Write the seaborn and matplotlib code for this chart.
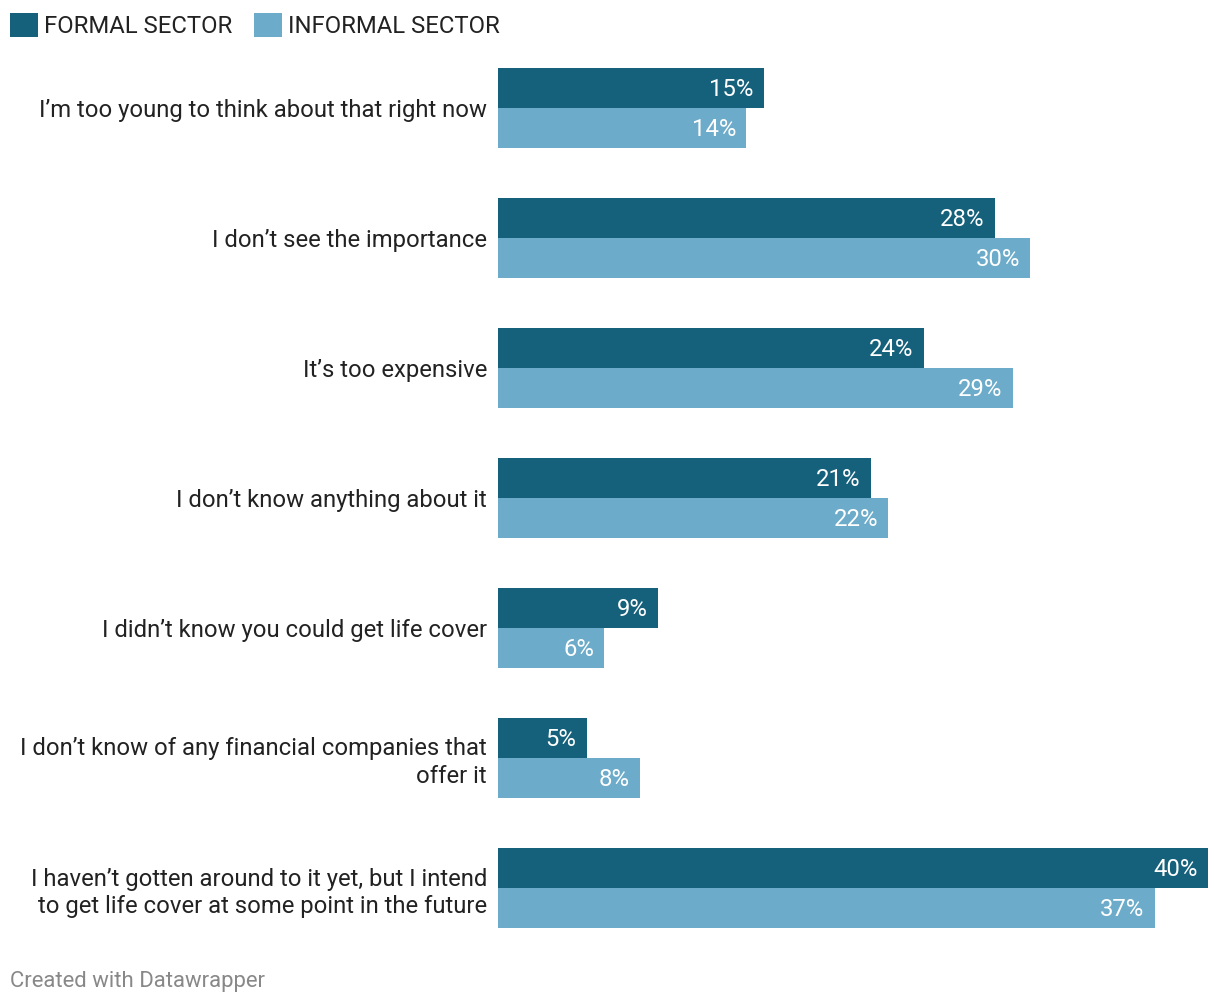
import pandas as pd
import seaborn as sns
import matplotlib.pyplot as plt

# data
reasons = [
    "I\u2019m too young to think about that right now",
    "I don\u2019t see the importance",
    "It\u2019s too expensive",
    "I don\u2019t know anything about it",
    "I didn\u2019t know you could get life cover",
    "I don\u2019t know of any financial companies that\noffer it",
    "I haven\u2019t gotten around to it yet, but I intend\nto get life cover at some point in the future",
]
formal = [15, 28, 24, 21, 9, 5, 40]
informal = [14, 30, 29, 22, 6, 8, 37]
sectors = ["FORMAL SECTOR", "INFORMAL SECTOR"]
colors = ["#15607a", "#6cabc9"]

df = pd.DataFrame({
    "reason": reasons * 2,
    "sector": [sectors[0]] * len(reasons) + [sectors[1]] * len(reasons),
    "value": formal + informal,
})

sns.set_style("white")
plt.rcParams["font.family"] = ["Roboto", "DejaVu Sans"]

W, H = 1220, 1006
FS = 17.2
fig = plt.figure(figsize=(W / 100, H / 100), dpi=100)
ax = fig.add_axes([498 / W, (H - 928) / H, 710 / W, 860 / H])

width = 80 / 130
sns.barplot(data=df, y="reason", x="value", hue="sector", order=reasons,
            hue_order=sectors, palette=colors, width=width, dodge=True,
            saturation=1, orient="h", ax=ax, legend=True, linewidth=0)

ax.set_xlim(0, 40)
ax.set_ylim(len(reasons) - 1 + width / 2, -width / 2)
ax.set_xlabel("")
ax.set_ylabel("")
ax.set_xticks([])
for s in ax.spines.values():
    s.set_visible(False)
ax.tick_params(axis="y", length=0, pad=8, labelsize=FS, labelcolor="#222222")
for lbl in ax.get_yticklabels():
    lbl.set_horizontalalignment("right")
    lbl.set_multialignment("right")
    lbl.set_linespacing(1.24)

# value labels inside bar ends
for p in ax.patches:
    w = p.get_width()
    if w <= 0:
        continue
    ax.annotate(f"{w:.0f}%", (w, p.get_y() + p.get_height() / 2),
                xytext=(-7.5, 0.5), textcoords="offset points",
                ha="right", va="center_baseline", color="white", fontsize=FS)

handles, labels = ax.get_legend_handles_labels()
ax.get_legend().remove()
fig.legend(handles, labels, loc="upper left", bbox_to_anchor=(10 / W, 1 - 13 / H),
           ncol=2, frameon=False, fontsize=FS, handlelength=1.17,
           handleheight=1.17, handletextpad=0.25, columnspacing=0.92,
           borderaxespad=0, borderpad=0, labelcolor="#222222")

fig.text(10 / W, 1 - 981 / H, "Created with Datawrapper", color="#888888",
         fontsize=15.9, ha="left", va="center")

fig.savefig("out.png", dpi=100)
